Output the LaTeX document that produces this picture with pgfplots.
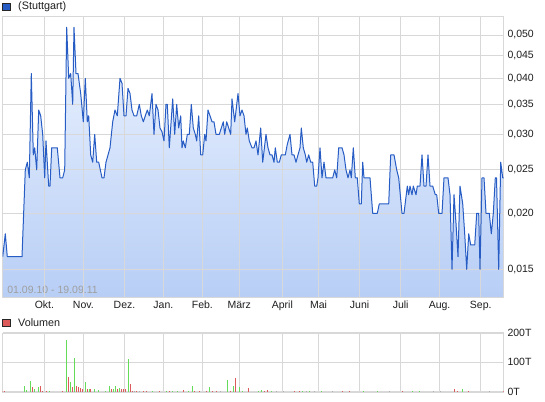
\documentclass[border=0pt]{standalone}
\usepackage{pgfplots}
\pgfplotsset{compat=1.18}
\usepackage{pgfplotstable}
\usepackage{fontspec}
\setmainfont{Liberation Sans}
\definecolor{pline}{RGB}{38,92,196}
\definecolor{ftop}{RGB}{236,243,255}
\definecolor{fbot}{RGB}{182,205,245}
\definecolor{gridc}{RGB}{216,216,216}
\definecolor{vgreen}{RGB}{100,220,90}
\definecolor{vred}{RGB}{221,90,90}
\definecolor{vgrey}{RGB}{175,175,175}
\definecolor{txtc}{RGB}{30,30,30}

\pgfplotstableread{
x y
2.7 0.016
5.3 0.018
7.3 0.016
22 0.016
25.3 0.025
27.3 0.026
29.3 0.024
31.3 0.041
33.3 0.027
34.7 0.028
36.7 0.025
38.7 0.034
40.7 0.033
42.7 0.030
44.7 0.024
46 0.029
48.7 0.023
50 0.023
51.7 0.028
57.3 0.028
60 0.024
62.7 0.024
64.7 0.025
66.7 0.052
68.7 0.040
70.7 0.041
72.7 0.035
74 0.052
76 0.041
78 0.041
80.7 0.037
83.3 0.032
85.3 0.040
87.3 0.032
88.7 0.033
90.7 0.027
92.7 0.026
94.7 0.030
96.7 0.026
98.7 0.026
102 0.024
104 0.024
106 0.026
110 0.028
112.7 0.032
115 0.034
117.3 0.033
120 0.040
122 0.039
124 0.033
126 0.033
128 0.038
130 0.037
132 0.034
134 0.033
136.7 0.033
139.3 0.035
141.3 0.033
143.3 0.032
145.3 0.033
147.3 0.034
149.3 0.033
152 0.037
154 0.030
156 0.035
158 0.034
160 0.031
162 0.0304
164 0.029
166 0.035
167.3 0.035
169.3 0.028
172.7 0.036
174.7 0.030
176.7 0.035
178.7 0.031
180.7 0.033
182 0.028
183.3 0.029
185.3 0.028
187.3 0.030
189.3 0.030
191.3 0.035
193.3 0.031
195.3 0.030
196.7 0.029
198.7 0.033
200.7 0.027
202.7 0.027
204.7 0.030
206 0.029
208 0.034
210 0.033
212 0.032
214 0.032
216 0.030
219.3 0.030
221.3 0.031
223.3 0.032
224.7 0.030
226.7 0.032
228.7 0.031
230.7 0.030
232 0.036
234.7 0.032
238 0.037
240 0.033
242 0.034
244 0.033
246 0.030
247.3 0.031
249.3 0.029
252 0.028
254 0.028
256 0.029
258 0.027
260.7 0.031
262.7 0.026
266 0.030
268 0.028
270 0.027
272 0.027
274 0.026
275.3 0.028
277.3 0.026
279.3 0.026
281.3 0.027
285.3 0.027
287.3 0.0285
290 0.030
292 0.027
294 0.027
296 0.026
298 0.027
300 0.028
301.3 0.031
303.3 0.028
305.3 0.027
306.7 0.026
308.7 0.027
310.7 0.026
312.7 0.026
314.7 0.023
316.7 0.023
318 0.024
320 0.028
322 0.024
324 0.026
326 0.024
332.7 0.024
334.7 0.025
336.7 0.024
338.7 0.028
342 0.028
344 0.027
346 0.025
348 0.024
350 0.025
351.3 0.024
353.3 0.028
355.3 0.024
357.3 0.024
359.3 0.021
361.3 0.021
362.7 0.026
364 0.024
370 0.024
372.7 0.020
377.3 0.020
379.3 0.021
388.7 0.021
390.7 0.027
394 0.027
396.7 0.025
398.7 0.024
402 0.020
404 0.020
407.3 0.023
408.7 0.022
410 0.023
412 0.022
413.3 0.023
416 0.022
417.3 0.023
420 0.023
422 0.027
424 0.023
426 0.023
428 0.027
430 0.023
432.7 0.023
435.3 0.022
436.7 0.022
438.7 0.020
442 0.020
444 0.024
448 0.024
450 0.022
452 0.015
454 0.022
456 0.019
458 0.016
460 0.023
462.7 0.021
464.7 0.018
466.7 0.015
468.7 0.018
470.7 0.017
474.7 0.017
476.7 0.020
478.7 0.020
480 0.015
482 0.024
484 0.024
486 0.020
489.3 0.020
491.3 0.018
493.3 0.020
495.3 0.024
496.5 0.024
498.7 0.015
500.7 0.026
502.7 0.024
503.5 0.024
}\price

\pgfplotstableread{
x v
25.0 19
27.0 6
31.0 36
35.0 8
38.3 16
49.3 3
66.0 175
70.0 33
74.0 113
85.3 33
89.3 10
94.7 10
98.7 6
105.3 3
109.3 19
113.3 8
115.3 19
119.3 12
128.3 111
152.9 4
166.2 4
172.5 4
177.4 4
188.6 4
192.1 19
209.6 17
227.8 38
233.4 21
239.7 15
242.5 4
258.6 3
261.4 6
271.2 3
302.7 4
309.7 4
321.6 3
363.6 4
377.7 2
412.7 2
419.7 2
462.4 10
}\volg

\pgfplotstableread{
x v
3.0 2
5.0 2
33.0 16
40.3 19
42.3 4
46.7 3
62.0 2
68.0 49
72.0 16
76.0 19
78.0 16
80.0 13
82.0 8
87.3 8
90.7 10
111.3 8
117.3 10
121.3 10
123.3 10
125.3 10
130.3 26
132.3 4
136.3 3
143.1 2
146.6 2
159.2 3
169.7 3
183.7 6
194.9 3
199.8 3
206.1 3
212.4 3
216.6 2
230.6 3
235.8 47
248.8 12
264.9 3
267.7 6
294.3 4
299.2 2
342.6 2
349.6 2
402.2 2
454.7 10
457.5 4
468.7 2
503.0 4
}\volr

\pgfplotstableread{
x v
134.3 3
139.6 3
220.8 3
276.1 2
283.1 2
306.2 2
314.6 2
332.1 2
389.9 2
433.7 2
440.0 3
489.7 2
}\volgr

\begin{document}
\begin{tikzpicture}
\useasboundingbox (0pt,0pt) rectangle (545pt,401pt);
\pgfplotsset{
  every axis/.append style={
    scale only axis,
    anchor=south west,
    width=500.8pt,
    xmin=2.7, xmax=503.5,
    axis line style={draw=gridc},
    grid=major,
    major grid style={draw=gridc, line width=0.8pt},
    major tick length=0pt,
    tick style={draw=none},
    tick label style={font=\fontsize{10.5}{12}\selectfont, text=txtc},
    yticklabel pos=right,
    yticklabel style={anchor=west, inner sep=0pt, xshift=3.8pt},
    xtick={44.4,83.4,124.5,163.4,202.4,239.3,282.4,318.6,359.6,400.7,439.6,480.7},
  }
}
% price panel: fill and grid
\begin{axis}[
  at={(2.7pt,104.3pt)},
  height=280.7pt,
  axis on top,
  ymode=log,
  ymin=0.01303, ymax=0.0551,
  ytick={0.015,0.020,0.025,0.030,0.035,0.040,0.045,0.050},
  yticklabels={{0,015},{0,020},{0,025},{0,030},{0,035},{0,040},{0,045},{0,050}},
  xticklabels={Okt.,Nov.,Dez.,Jan.,Feb.,März,April,Mai,Juni,Juli,Aug.,Sep.},
  xticklabel style={anchor=base, inner sep=0pt, yshift=-11.6pt},
]
\addplot[draw=none, top color=ftop, bottom color=fbot] table {\price}
  -- (axis cs:503.5,0.0125) -- (axis cs:2.7,0.0125) -- cycle;
\node[anchor=west, text=gray!75, font=\fontsize{10.5}{12}\selectfont, inner sep=0pt, xshift=4.5pt] at (rel axis cs:0,0.024) {01.09.10 - 19.09.11};
\end{axis}
% price panel: line on top of the grid
\begin{axis}[
  at={(2.7pt,104.3pt)},
  height=280.7pt,
  ymode=log,
  ymin=0.01303, ymax=0.0551,
  hide axis,
]
\addplot[pline, line width=1pt, mark=none, line join=round] table {\price};
\end{axis}
% volume panel
\begin{axis}[
  at={(2.7pt,9.3pt)},
  height=59pt,
  ymin=0, ymax=200,
  ytick={0,100,200},
  yticklabels={0T,100T,200T},
  xticklabels={},
]
\addplot[ycomb, draw=vgreen, line width=1pt, mark=none] table {\volg};
\addplot[ycomb, draw=vred, line width=1pt, mark=none] table {\volr};
\addplot[ycomb, draw=vgrey, line width=1pt, mark=none] table {\volgr};
\end{axis}
% legends
\node[draw=black!85, fill=pline, minimum size=7.3pt, inner sep=0pt, line width=0.8pt] at (6.4pt,394.3pt) {};
\node[anchor=west, inner sep=0pt, font=\fontsize{10.8}{12}\selectfont, text=txtc] at (18pt,394.3pt) {(Stuttgart)};
\node[draw=black!85, fill=vred, minimum size=7.3pt, inner sep=0pt, line width=0.8pt] at (6.4pt,78pt) {};
\node[anchor=west, inner sep=0pt, font=\fontsize{10.8}{12}\selectfont, text=txtc] at (18pt,78pt) {Volumen};
\end{tikzpicture}
\end{document}
